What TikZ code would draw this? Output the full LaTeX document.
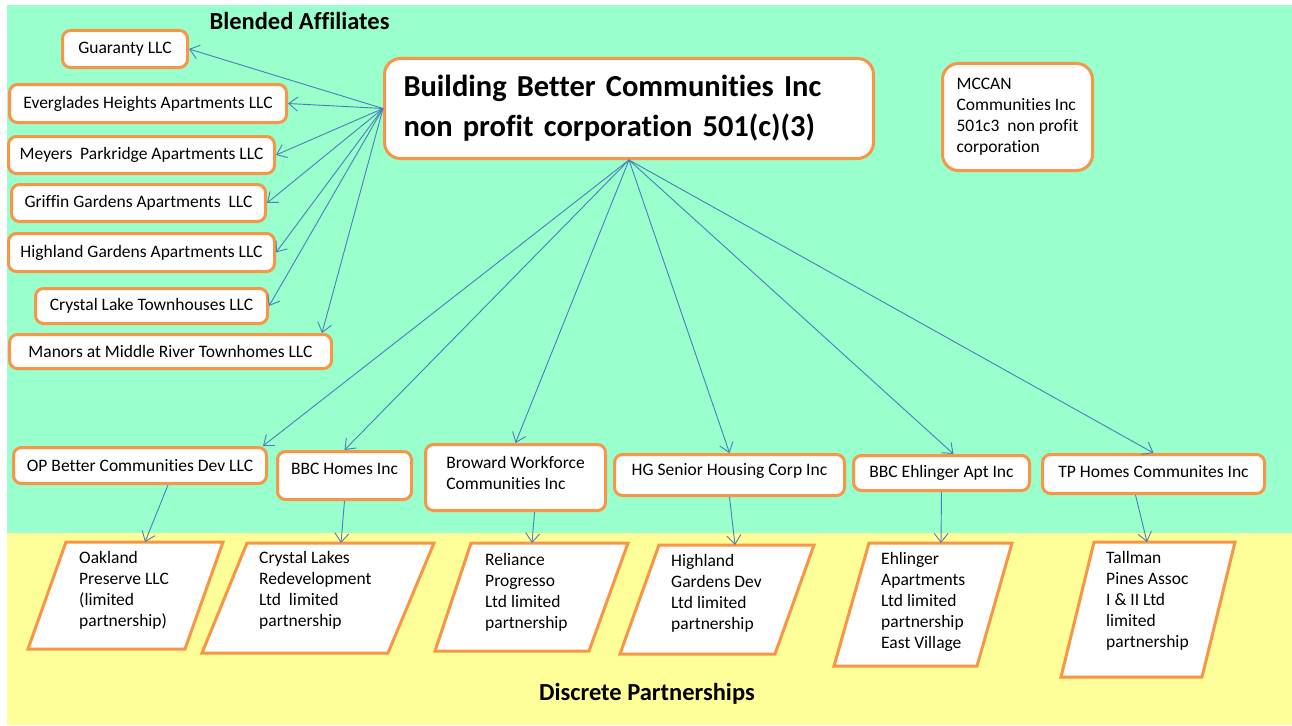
\documentclass[tikz,border=0pt]{standalone}
\usepackage{fontspec}
\setmainfont{Carlito}[Ligatures=NoCommon]
\usetikzlibrary{arrows.meta}
\definecolor{affgreen}{HTML}{99FFCC}
\definecolor{partyellow}{HTML}{FFFF99}
\definecolor{boxorange}{HTML}{F79646}
\definecolor{linkblue}{HTML}{4A7EBB}
\tikzset{
  entity/.style={draw=boxorange, line width=3pt, fill=white, rounded corners=8pt,
    inner sep=0pt, align=left, font=\fontsize{17.5}{21}\selectfont},
  bigentity/.style={entity, rounded corners=16pt},
  partnership/.style={draw=boxorange, line width=3pt, fill=white, line join=miter},
  ptext/.style={inner sep=0pt, anchor=west, align=left, font=\fontsize{17.5}{21}\selectfont},
  link/.style={draw=linkblue, line width=0.9pt, -{Straight Barb[length=9pt,width=14pt]}},
  heading/.style={inner sep=0pt, font=\bfseries\fontsize{24.5}{28}\selectfont},
}
\begin{document}
\begin{tikzpicture}[x=1pt, y=-1pt]
  \useasboundingbox (0,0) rectangle (1292,725);
  % background bands
  \fill[white] (0,0) rectangle (1292,725);
  \fill[affgreen] (7,5) rectangle (1292,533);
  \fill[partyellow] (7,533) rectangle (1292,725);

  \node[heading] (blended) at (299.5,20.5) {Blended Affiliates};
  \node[heading] (discrete) at (647,694) {Discrete Partnerships};

  % parent corporation
  \node[bigentity, text width=451pt, inner xsep=19pt, minimum height=100pt,
        font=\bfseries\fontsize{30.5}{40}\selectfont] (main) at (629,108.5)
        {Building Better Communities Inc\\non profit corporation 501(c)(3)};
  \node[bigentity, minimum width=150pt, minimum height=107pt] (mccan) at (1017.5,117)
        {MCCAN\\Communities Inc\\501c3~ non profit\\corporation};

  % blended affiliates
  \node[entity, minimum width=125pt, minimum height=37pt] (guaranty) at (125,49) {Guaranty LLC};
  \node[entity, minimum width=277pt, minimum height=38pt] (everglades) at (148,103.5) {Everglades Heights Apartments LLC};
  \node[entity, minimum width=266pt, minimum height=37pt] (meyers) at (141.5,155) {Meyers~ Parkridge Apartments LLC};
  \node[entity, minimum width=254pt, minimum height=37pt] (griffin) at (138.5,203) {Griffin Gardens Apartments~ LLC};
  \node[entity, minimum width=266pt, minimum height=38pt] (highland) at (141.5,252.5) {Highland Gardens Apartments LLC};
  \node[entity, minimum width=232pt, minimum height=35pt] (crystal) at (151.5,306) {Crystal Lake Townhouses LLC};
  \node[entity, minimum width=322pt, minimum height=34pt] (manors) at (170.5,351.5) {Manors at Middle River Townhomes LLC};

  % development corporations
  \node[entity, minimum width=253pt, minimum height=36pt] (op) at (140,465.5) {OP Better Communities Dev LLC};
  \node[entity, minimum width=134pt, minimum height=48pt, text depth=14pt] (bbc) at (344.5,475.5) {BBC Homes Inc};
  \node[entity, minimum width=180pt, minimum height=66pt, text depth=9pt] (broward) at (515.5,477.5) {Broward Workforce\\Communities Inc};
  \node[entity, minimum width=230pt, minimum height=41pt, text depth=11pt] (hg) at (729.5,475) {HG Senior Housing Corp Inc};
  \node[entity, minimum width=176pt, minimum height=35pt] (ehl) at (941.5,473) {BBC Ehlinger Apt Inc};
  \node[entity, minimum width=222pt, minimum height=39pt, text depth=6pt] (tp) at (1153.5,474) {TP Homes Communites Inc};

  % discrete partnerships
  \draw[partnership] (66,542) -- (223,542) -- (185,649) -- (28,649) -- cycle;
  \coordinate (oaklandtop) at (145,542);
  \node[ptext] (oakland) at (79,590) {Oakland\\Preserve LLC\\(limited\\partnership)};

  \draw[partnership] (247,543) -- (434,543) -- (388,653) -- (202,653) -- cycle;
  \coordinate (lakestop) at (341,543);
  \node[ptext] (lakes) at (259,590.5) {Crystal Lakes\\Redevelopment\\Ltd~ limited\\partnership};

  \draw[partnership] (471,543) -- (628,543) -- (589,651) -- (435,651) -- cycle;
  \coordinate (reliancetop) at (532,543);
  \node[ptext] (reliance) at (485,592.5) {Reliance\\Progresso\\Ltd limited\\partnership};

  \draw[partnership] (659,545) -- (814,545) -- (775,654) -- (620,654) -- cycle;
  \coordinate (hgdevtop) at (735,545);
  \node[ptext] (hgdev) at (671,593.5) {Highland\\Gardens Dev\\Ltd limited\\partnership};

  \draw[partnership] (869,543) -- (1012,543) -- (977,666) -- (834,666) -- cycle;
  \coordinate (ehlingertop) at (941,543);
  \node[ptext] (ehlinger) at (881,602) {Ehlinger\\Apartments\\Ltd limited\\partnership\\East Village};

  \draw[partnership] (1094,542) -- (1235,542) -- (1202,677) -- (1061,677) -- cycle;
  \coordinate (tallmantop) at (1147,542);
  \node[ptext] (tallman) at (1106,600.5) {Tallman\\Pines Assoc\\I \& II Ltd\\limited\\partnership};

  % ownership links
  \draw[link] (main.west) -- (guaranty.east);
  \draw[link] (main.west) -- (everglades.east);
  \draw[link] (main.west) -- (meyers.east);
  \draw[link] (main.west) -- (griffin.east);
  \draw[link] (main.west) -- (highland.east);
  \draw[link] (main.west) -- (crystal.east);
  \draw[link] (main.west) -- ([xshift=-11pt]manors.north east);

  \draw[link] (main.south) -- ([xshift=-5pt]op.north east);
  \draw[link] (main.south) -- (bbc.north);
  \draw[link] (main.south) -- (broward.north);
  \draw[link] (main.south) -- (hg.north);
  \draw[link] (main.south) -- ([xshift=12pt]ehl.north);
  \draw[link] (main.south) -- (tp.north);

  \draw[link] ([xshift=28pt]op.south) -- (oaklandtop);
  \draw[link] (bbc.south) -- (lakestop);
  \draw[link] ([xshift=19pt]broward.south) -- (reliancetop);
  \draw[link] (hg.south) -- (hgdevtop);
  \draw[link] (ehl.south) -- (ehlingertop);
  \draw[link] ([xshift=-18pt]tp.south) -- (tallmantop);
\end{tikzpicture}
\end{document}
